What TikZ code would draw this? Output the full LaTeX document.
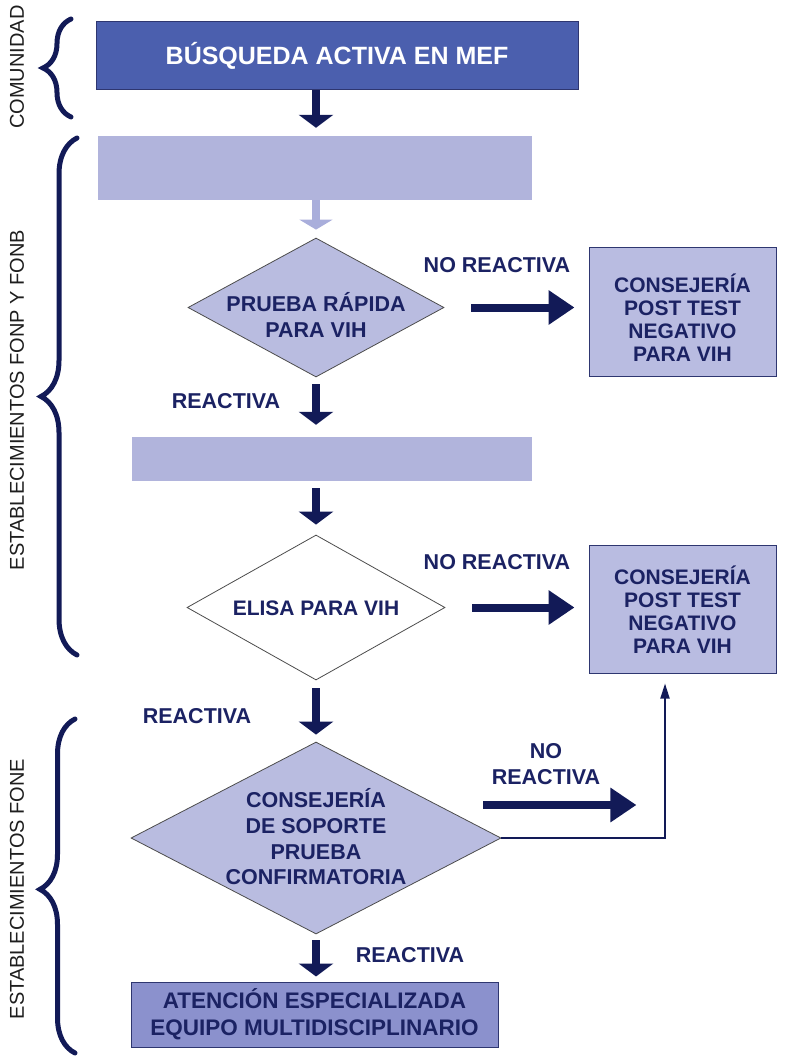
\documentclass[tikz,border=0pt]{standalone}
\usepackage{fontspec}
\setmainfont{Liberation Sans}
\usetikzlibrary{arrows.meta,shapes.geometric,decorations.pathreplacing}
\definecolor{navy}{HTML}{121A57}
\definecolor{txtnavy}{HTML}{1B2263}
\definecolor{topblue}{HTML}{4B5FAE}
\definecolor{lightbar}{HTML}{B1B4DC}
\definecolor{lightarrow}{HTML}{A9AEDB}
\definecolor{dfill}{HTML}{B9BCE0}
\definecolor{boxfill}{HTML}{B9BCE1}
\definecolor{botfill}{HTML}{8B91CD}
\definecolor{boxline}{HTML}{2E3670}
\definecolor{sidetxt}{HTML}{1E1E1E}
\tikzset{
  flowtxt/.style={font=\bfseries\fontsize{21}{23}\selectfont, text=txtnavy, align=center, inner sep=0pt},
  lbl/.style={font=\bfseries\fontsize{21.5}{26}\selectfont, text=txtnavy, align=center, inner sep=0pt},
  sidelbl/.style={font=\fontsize{20}{24}\selectfont, text=sidetxt, rotate=90, inner sep=0pt},
  dia/.style={diamond, draw=black!70, line width=0.8pt, inner sep=0pt, aspect=1},
  rbox/.style={rectangle, draw=boxline, line width=1pt, fill=boxfill, minimum width=187pt, inner sep=0pt},
  varrow/.style={draw=navy, line width=8pt, -{Triangle[width=34pt,length=13pt]}},
  harrow/.style={draw=navy, line width=8pt, -{Triangle[width=33pt,length=26pt]}},
  thinarrow/.style={draw=navy, line width=1.8pt, -{Triangle[width=9pt,length=15pt]}},
  sbrace/.style={draw=navy, line width=5pt, line cap=round, decorate},
}
\begin{document}
\begin{tikzpicture}[x=1pt,y=-1pt]
\useasboundingbox (0,0) rectangle (789,1059);
% side labels and braces
\node[sidelbl] (lcom) at (17,67) {COMUNIDAD};
\node[sidelbl] (lfonp) at (17,400) {ESTABLECIMIENTOS FONP Y FONB};
\node[sidelbl] (lfone) at (17,889) {ESTABLECIMIENTOS FONE};
\draw[sbrace, decoration={brace, amplitude=28pt}] (71,117) -- (71,19);
\draw[sbrace, decoration={brace, amplitude=36pt}] (77,655) -- (77,138);
\draw[sbrace, decoration={brace, amplitude=35pt, aspect=0.49}] (75,1053) -- (75,719);
% boxes
\node[rectangle, fill=topblue, draw=boxline, line width=1pt, minimum width=482pt, minimum height=68pt, inner sep=0pt,
  font=\bfseries\fontsize{25}{28}\selectfont, text=white] (top) at (337,56) {BÚSQUEDA ACTIVA EN MEF};
\node[rectangle, fill=lightbar, minimum width=434pt, minimum height=64pt, inner sep=0pt] (light1) at (315,168) {};
\node[dia, fill=dfill, minimum width=256pt, minimum height=139pt] (d1) at (316,307.5) {};
\node[flowtxt, font=\bfseries\fontsize{21.5}{26}\selectfont] (d1t) at (316,315) {PRUEBA RÁPIDA\\PARA VIH};
\node[lbl] (nr1) at (497,265) {NO REACTIVA};
\node[rbox, minimum height=129pt] (r1) at (682.5,311.5) {};
\node[flowtxt] (r1t) at (682.5,318) {CONSEJERÍA\\POST TEST\\NEGATIVO\\PARA VIH};
\node[lbl] (re1) at (226,401) {REACTIVA};
\node[rectangle, fill=lightbar, minimum width=400pt, minimum height=44pt, inner sep=0pt] (bar2) at (332,459) {};
\node[dia, fill=white, minimum width=258pt, minimum height=145pt] (d2) at (316,607.5) {};
\node[flowtxt] (d2t) at (316,608) {ELISA PARA VIH};
\node[lbl] (nr2) at (497,562) {NO REACTIVA};
\node[rbox, minimum height=128pt] (r2) at (682.5,609) {};
\node[flowtxt] (r2t) at (682.5,610) {CONSEJERÍA\\POST TEST\\NEGATIVO\\PARA VIH};
\node[lbl] (re2) at (197,716) {REACTIVA};
\node[dia, fill=dfill, minimum width=370pt, minimum height=192pt] (d3) at (316,838) {};
\node[flowtxt, font=\bfseries\fontsize{21.5}{25.7}\selectfont] (d3t) at (316,837) {CONSEJERÍA\\DE SOPORTE\\PRUEBA\\CONFIRMATORIA};
\node[lbl] (nr3) at (546,764) {NO\\REACTIVA};
\node[lbl] (re3) at (410,955) {REACTIVA};
\node[rectangle, fill=botfill, draw=boxline, line width=1pt, minimum width=367pt, minimum height=65pt, inner sep=0pt,
  font=\bfseries\fontsize{22.5}{27}\selectfont, text=txtnavy, align=center] (bot) at (314.5,1014.5) {ATENCIÓN ESPECIALIZADA\\EQUIPO MULTIDISCIPLINARIO};
% connectors
\draw[varrow] (top.south -| d1.north) -- ([yshift=8pt]light1.north -| d1.north);
\draw[draw=lightarrow, line width=8pt, -{Triangle[width=33pt,length=10pt]}] (light1.south -| d1.north) -- ([yshift=8pt]d1.north);
\draw[harrow] ([xshift=27pt]d1.east) -- ([xshift=-14pt]d1.east -| r1.west);
\draw[varrow] ([yshift=-7pt]d1.south) -- ([yshift=12pt]bar2.north -| d1.south);
\draw[varrow] (bar2.south -| d2.north) ++(0,7) -- ([yshift=10pt]d2.north);
\draw[harrow] ([xshift=27pt]d2.east) -- ([xshift=-14pt]d2.east -| r2.west);
\draw[varrow] ([yshift=-8pt]d2.south) -- ([yshift=7pt]d3.north);
\draw[harrow] ([shift={(-18pt,33pt)}]d3.east) -- ([shift={(135pt,33pt)}]d3.east);
\draw[thinarrow] (d3.east) -| ([xshift=-17.5pt,yshift=-10pt]r2.south);
\draw[varrow] ([yshift=-6pt]d3.south) -- ([yshift=5pt]bot.north -| d3.south);
\end{tikzpicture}
\end{document}
